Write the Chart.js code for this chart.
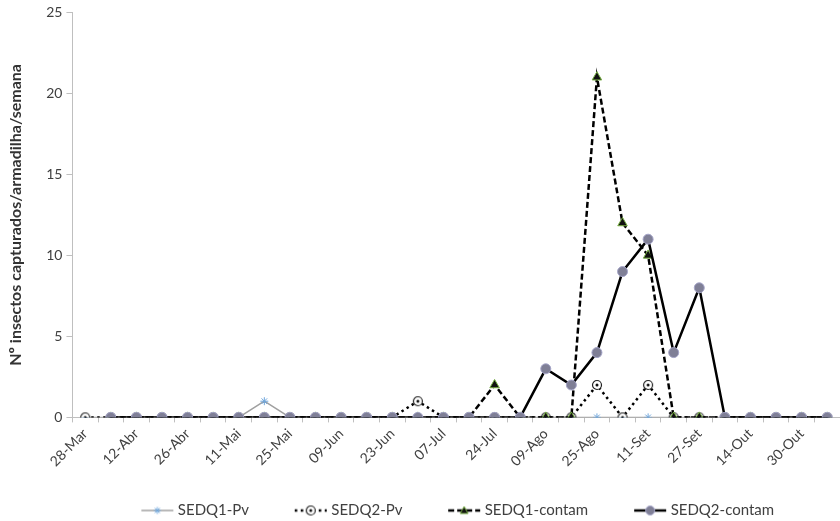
<!DOCTYPE html>
<html>
<head>
<meta charset="utf-8">
<script src="https://cdn.jsdelivr.net/npm/chart.js@4.4.0/dist/chart.umd.min.js"></script>
<style>
html,body{margin:0;padding:0;background:#fff;}
#wrap{width:840px;height:521px;position:relative;}
</style>
</head>
<body>
<div id="wrap"><canvas id="c" width="840" height="521"></canvas></div>
<script>
// ---- data ----
const categories = ['28-Mar','','12-Abr','','26-Abr','','11-Mai','','25-Mai','','09-Jun','','23-Jun','','07-Jul','','24-Jul','','09-Ago','','25-Ago','','11-Set','','27-Set','','14-Out','','30-Out',''];
const seriesNames = ['SEDQ1-Pv','SEDQ2-Pv','SEDQ1-contam','SEDQ2-contam'];
const sedq1Pv     = [0,0,0,0,0,0,0,1,0,0,0,0,0,0,0,0,0,0,0,0,0,0,0,0,0,0,0,0,0,0];
const sedq2Pv     = [0,0,0,0,0,0,0,0,0,0,0,0,0,1,0,0,0,0,0,0,2,0,2,0,0,0,0,0,0,0];
const sedq1Contam = [null,0,0,0,0,0,0,0,0,0,0,0,0,0,0,0,2,0,0,0,21,12,10,0,0,0,0,0,0,0];
const sedq2Contam = [null,0,0,0,0,0,0,0,0,0,0,0,0,0,0,0,0,0,3,2,4,9,11,4,8,0,0,0,0,0];
const yTicks = [0,5,10,15,20,25];

// ---- marker / legend images ----
function circleDot(){
  const c=document.createElement('canvas');c.width=12;c.height=12;
  const g=c.getContext('2d');
  g.beginPath();g.arc(6,6,4.5,0,Math.PI*2);g.fillStyle='#fff';g.fill();
  g.lineWidth=1.2;g.strokeStyle='#222';g.stroke();
  g.beginPath();g.arc(6,6,1.5,0,Math.PI*2);g.fillStyle='#111';g.fill();
  return c;
}
const cdImg = circleDot();
// legend sample: 32px line+marker drawn at the right of a 42px canvas (shifts it toward the text)
function legendImg(kind){
  const c=document.createElement('canvas');c.width=42;c.height=14;
  const g=c.getContext('2d');
  const x0=8, w=32, cx=x0+w/2;
  g.beginPath();g.moveTo(x0,7);g.lineTo(x0+w,7);
  if(kind===0){g.strokeStyle='#a0a0a0';g.lineWidth=1.5;}
  else {g.strokeStyle='#000';g.lineWidth=2.5;}
  if(kind===1) g.setLineDash([2.5,3.5]);
  if(kind===2) g.setLineDash([6,3]);
  g.stroke();g.setLineDash([]);
  if(kind===0){
    g.strokeStyle='#6fa6dc';g.lineWidth=1;
    for(let a=0;a<4;a++){const an=a*Math.PI/4;g.beginPath();g.moveTo(cx-3.5*Math.cos(an),7-3.5*Math.sin(an));g.lineTo(cx+3.5*Math.cos(an),7+3.5*Math.sin(an));g.stroke();}
  } else if(kind===1){
    g.drawImage(cdImg,cx-6,1);
  } else if(kind===2){
    g.beginPath();g.moveTo(cx,3);g.lineTo(cx+4,10);g.lineTo(cx-4,10);g.closePath();
    g.fillStyle='#111';g.fill();g.strokeStyle='#77b043';g.lineWidth=1;g.stroke();
  } else {
    g.beginPath();g.arc(cx,7,4.5,0,Math.PI*2);g.fillStyle='#7f7f96';g.fill();
    g.strokeStyle='#a4a4c8';g.lineWidth=1;g.stroke();
  }
  return c;
}
const legendImgs=[0,1,2,3].map(legendImg);
const nb=n=>'\u00a0'.repeat(n);
const legendGap=[nb(6),nb(6),nb(6),''];

const FONT='Lato, "Liberation Sans", sans-serif';

new Chart(document.getElementById('c'),{
  type:'line',
  data:{
    labels:categories,
    datasets:[
      {label:seriesNames[0],data:sedq1Pv,borderColor:'#a0a0a0',borderWidth:1.5,pointStyle:'star',pointRadius:4,pointBorderColor:'#6fa6dc',pointBackgroundColor:'#6fa6dc',pointBorderWidth:1,tension:0,order:3},
      {label:seriesNames[1],data:sedq2Pv,borderColor:'#000',borderWidth:2.5,borderDash:[2.5,3.5],pointStyle:cdImg,pointRadius:5,tension:0,order:2},
      {label:seriesNames[2],data:sedq1Contam,borderColor:'#000',borderWidth:2.5,borderDash:[6,3],pointStyle:'triangle',pointRadius:5.5,pointBackgroundColor:'#111',pointBorderColor:'#77b043',pointBorderWidth:1,tension:0,order:1},
      {label:seriesNames[3],data:sedq2Contam,borderColor:'#000',borderWidth:2.5,pointStyle:'circle',pointRadius:5,pointBackgroundColor:'#7f7f96',pointBorderColor:'#a4a4c8',pointBorderWidth:1,tension:0,order:0}
    ]
  },
  options:{
    responsive:false,
    animation:false,
    layout:{autoPadding:false,padding:{left:6,right:0,top:7,bottom:-7}},
    plugins:{
      tooltip:{enabled:false},
      legend:{
        position:'bottom',
        fullSize:false,
        labels:{
          usePointStyle:true,
          pointStyleWidth:32,
          boxHeight:14,
          padding:20,
          color:'#404040',
          font:{family:FONT,size:15},
          sort:(a,b)=>a.datasetIndex-b.datasetIndex,
          generateLabels:(chart)=>chart.data.datasets.map((d,i)=>({
            text:d.label+legendGap[i],datasetIndex:i,pointStyle:legendImgs[i],fillStyle:'transparent',strokeStyle:'transparent',lineWidth:0,fontColor:'#404040'
          }))
        }
      }
    },
    scales:{
      x:{
        offset:true,
        afterFit:(s)=>{s.height+=10;s.paddingRight=0;},
        grid:{offset:true,drawOnChartArea:false,drawTicks:true,tickLength:5,color:'#bfbfbf'},
        border:{color:'#bfbfbf',width:1},
        ticks:{autoSkip:false,maxRotation:45,minRotation:45,color:'#404040',font:{family:FONT,size:14},padding:3}
      },
      y:{
        min:0,max:25,
        afterBuildTicks:(s)=>{s.ticks=yTicks.map(v=>({value:v}));},
        grid:{drawOnChartArea:false,drawTicks:true,tickLength:6,color:'#bfbfbf'},
        border:{color:'#bfbfbf',width:1},
        ticks:{color:'#404040',font:{family:FONT,size:14},padding:4},
        title:{display:true,text:'Nº insectos capturados/armadilha/semana',color:'#333',font:{family:FONT,size:16,weight:'bold'},padding:{top:0,bottom:17}}
      }
    }
  }
});
</script>
</body>
</html>
